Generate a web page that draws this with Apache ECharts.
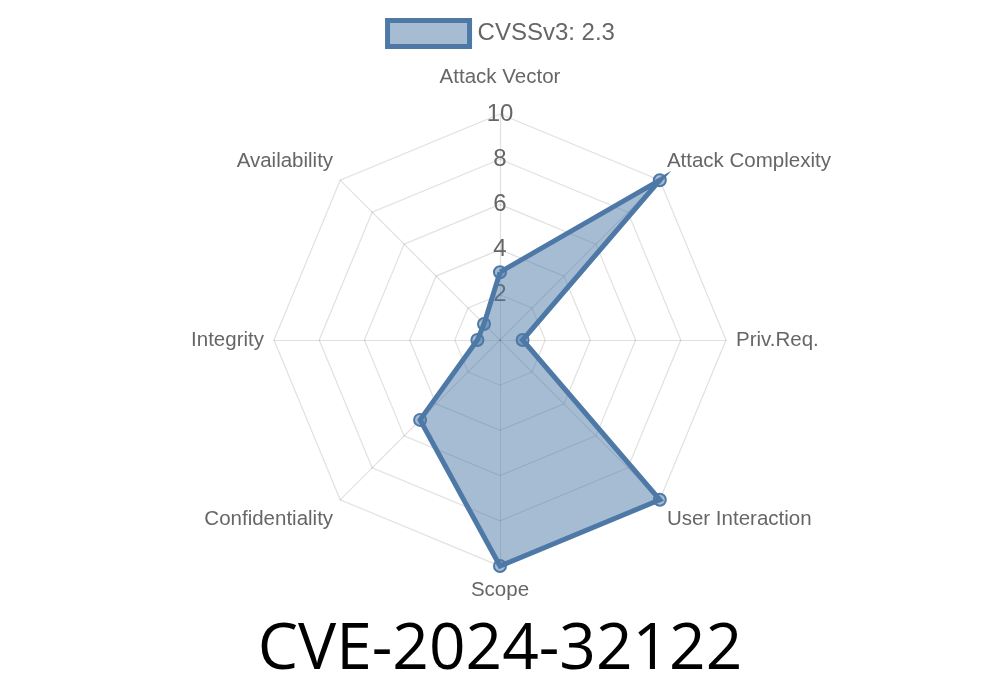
<!DOCTYPE html>
<html>
<head>
<meta charset="utf-8">
<script src="https://cdn.jsdelivr.net/npm/echarts@6/dist/echarts.min.js"></script>
<style>html,body{margin:0;padding:0;background:#fff}#c{width:1000px;height:700px}</style>
</head>
<body>
<div id="c"></div>
<script>
const indicators = ['Attack Vector', 'Attack Complexity', 'Priv.Req.', 'User Interaction', 'Scope', 'Confidentiality', 'Integrity', 'Availability'];
const seriesName = 'CVSSv3: 2.3';
const values = [3, 10, 1, 10, 10, 5, 1, 1];
const axisMax = 10;
const titleText = 'CVE-2024-32122';

const blue = '#4e79a7';
const fill = 'rgba(78,121,167,0.5)';
const grid = 'rgba(0,0,0,0.12)';
const font = '"Liberation Sans", Arial, sans-serif';

// ECharts lays radar indicators out counter-clockwise; reorder to go clockwise.
const n = indicators.length;
const order = [0];
for (let k = n - 1; k >= 1; k--) order.push(k);

function indicatorOpt(i) {
  const o = { name: indicators[i], max: axisMax, min: 0 };
  if (i === 0) {
    o.nameGap = 25;
    o.axisLabel = { show: true };
  } else if (i === n / 2) {
    o.nameGap = 12;
  }
  return o;
}

function nameFormatter(name) {
  const i = indicators.indexOf(name);
  if (i === 1 || i === n - 1) return name + '\n ';
  if (i === 3 || i === 5) return ' \n' + name;
  return name;
}

const chart = echarts.init(document.getElementById('c'), null, { renderer: 'canvas' });
chart.setOption({
  animation: false,
  backgroundColor: '#fff',
  title: {
    text: titleText,
    left: 'center',
    bottom: 12,
    textStyle: { fontFamily: '"Open Sans", "Noto Sans", sans-serif', fontSize: 64, fontWeight: 'normal', color: '#000' }
  },
  legend: {
    top: 13,
    left: 'center',
    icon: 'rect',
    itemWidth: 82,
    itemHeight: 26,
    itemStyle: { color: fill, borderColor: blue, borderWidth: 5 },
    textStyle: { fontFamily: font, fontSize: 24, color: '#666', padding: [0, 0, 0, 3] },
    data: [seriesName]
  },
  radar: {
    center: [500, 340],
    radius: 226,
    startAngle: 90,
    splitNumber: 5,
    shape: 'polygon',
    nameGap: 10,
    axisName: { fontFamily: font, fontSize: 20.5, lineHeight: 24, color: '#666', formatter: nameFormatter },
    axisLine: { lineStyle: { color: grid, width: 1.2 } },
    splitLine: { lineStyle: { color: grid, width: 1.2 } },
    splitArea: { show: false },
    axisTick: { show: false },
    axisLabel: {
      show: false,
      showMinLabel: false,
      margin: 0,
      align: 'center',
      verticalAlign: 'middle',
      fontFamily: font,
      fontSize: 24,
      color: '#666'
    },
    indicator: order.map(indicatorOpt)
  },
  series: [{
    type: 'radar',
    name: seriesName,
    symbol: 'circle',
    symbolSize: 12,
    lineStyle: { color: blue, width: 5, join: 'miter', miterLimit: 10 },
    itemStyle: { color: fill, borderColor: blue, borderWidth: 2 },
    areaStyle: { color: fill, opacity: 1 },
    data: [{ value: order.map(i => values[i]), name: seriesName }]
  }]
});
</script>
</body>
</html>
